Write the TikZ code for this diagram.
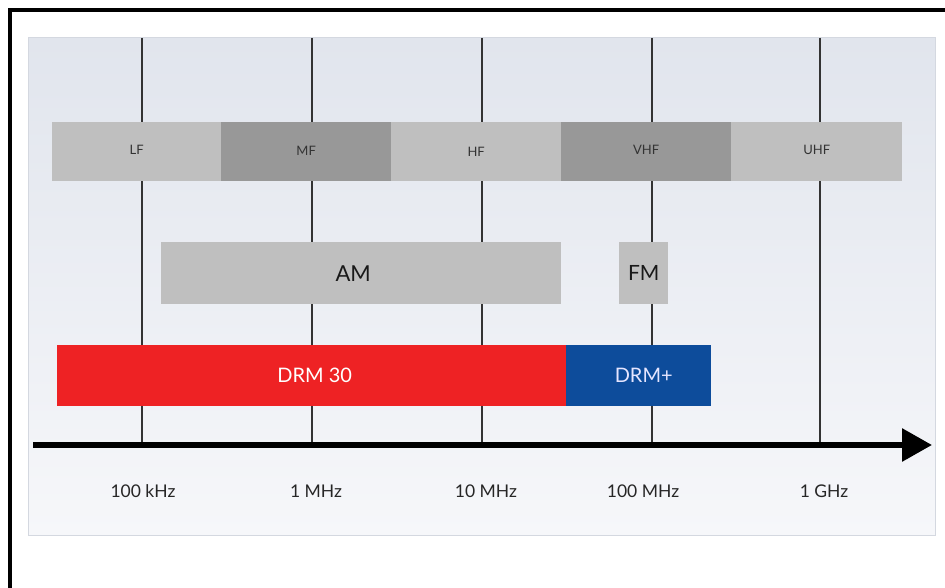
\documentclass[tikz,border=0pt]{standalone}
\usepackage{fontspec}
\setmainfont{Lato}
\usetikzlibrary{arrows.meta}
\definecolor{bandlight}{HTML}{BFBFBF}
\definecolor{banddark}{HTML}{989898}
\definecolor{drmred}{HTML}{EE2224}
\definecolor{drmblue}{HTML}{0D4C9B}
\definecolor{paneltop}{HTML}{E1E5ED}
\definecolor{panelbot}{HTML}{F6F7FA}
\definecolor{paneledge}{HTML}{D4D8E0}
\begin{document}
\begin{tikzpicture}[x=1pt,y=-1pt,
  band/.style={fill=#1,draw=none,minimum height=59pt,inner sep=0pt,anchor=north west,font=\fontsize{13}{13}\selectfont,text=black!80},
  bar/.style={draw=none,inner sep=0pt,anchor=north west,minimum height=62pt,font=\fontsize{20}{20}\selectfont},
  grid/.style={line width=1.4pt,black!80},
  freq/.style={font=\fontsize{17.5}{17.5}\selectfont,text=black!85}]
\useasboundingbox (0,0) rectangle (945,588);
\fill[white] (0,0) rectangle (945,588);
% outer frame
\draw[line width=4pt] (10,600) -- (10,10) -- (960,10);
% panel with vertical gradient
\shade[top color=paneltop,bottom color=panelbot] (28,38) rectangle (935,535);
\draw[paneledge,line width=1pt] (28,38) rectangle (935,535);
% decade marks
\foreach \n/\x in {a/142,b/312,c/482,d/652,e/820}{
  \coordinate (top\n) at (\x,38);
  \coordinate (bot\n) at (\x,445);
  \draw[grid] (top\n) -- (bot\n);
}
% ITU bands
\node[band=bandlight,minimum width=169pt] (lf)  at (52,122)  {\raisebox{3pt}{LF}};
\node[band=banddark, minimum width=170pt] (mf)  at (221,122) {\raisebox{1pt}{MF}};
\node[band=bandlight,minimum width=170pt] (hf)  at (391,122) {HF};
\node[band=banddark, minimum width=170pt] (vhf) at (561,122) {\raisebox{3pt}{VHF}};
\node[band=bandlight,minimum width=171pt] (uhf) at (731,122) {\raisebox{3pt}{UHF}};
% analogue services
\node[bar,fill=bandlight,minimum width=400pt,text=black!90,font=\fontsize{22}{22}\selectfont] (am) at (161,242) {\hspace*{-16pt}AM};
\node[bar,fill=bandlight,minimum width=49pt,text=black!90,font=\fontsize{21}{21}\selectfont] (fm) at (619,242) {\raisebox{-3pt}{FM}};
% DRM modes
\node[bar,fill=drmred,minimum width=509pt,minimum height=61pt,text=white] (drm30) at (57,345) {\hspace*{6pt}DRM 30};
\node[bar,fill=drmblue,minimum width=145pt,minimum height=61pt,text=white!90!blue] (drmplus) at (566,345) {\hspace*{10pt}DRM+};
% frequency axis
\coordinate (axstart) at (33,445);
\coordinate (axend) at (932,445);
\draw[line width=6pt,-{Triangle[length=30pt,width=32pt]}] (axstart) -- (axend);
% frequency labels
\node[freq] (f1) at (143,491) {100 kHz};
\node[freq] (f2) at (316,491) {1 MHz};
\node[freq] (f3) at (486,491) {10 MHz};
\node[freq] (f4) at (643,491) {100 MHz};
\node[freq] (f5) at (824,491) {1 GHz};
\end{tikzpicture}
\end{document}
